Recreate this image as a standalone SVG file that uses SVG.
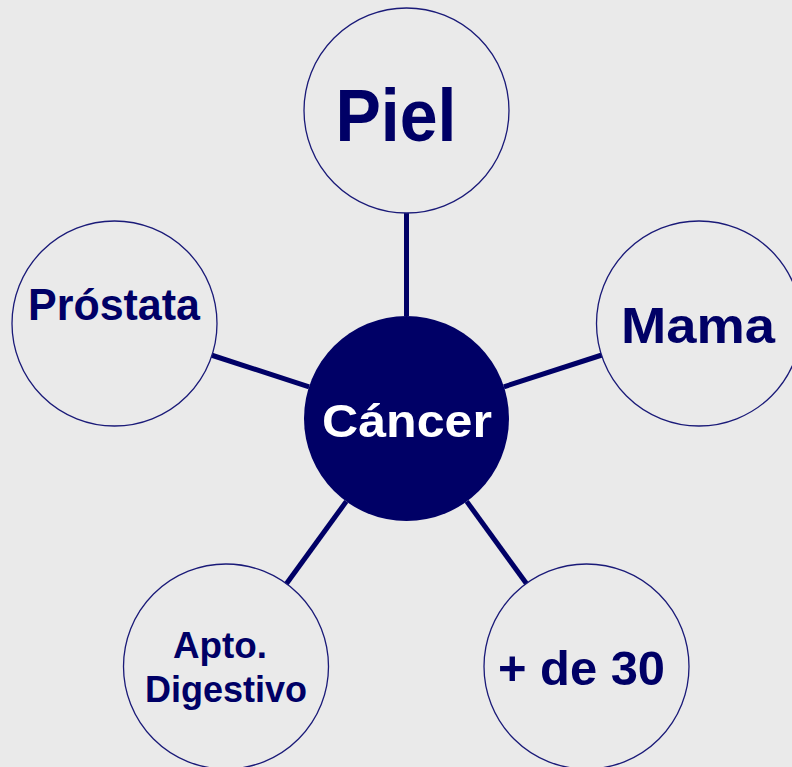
<svg xmlns="http://www.w3.org/2000/svg" width="792" height="767" viewBox="0 0 792 767">
<style>
.bg{fill:#eaeaea}
.leaf{fill:#eaeaea;stroke:#1a1a78;stroke-width:1.3}
.hub{fill:#000066}
.conn line{stroke:#000066;stroke-width:5;stroke-linecap:butt}
text{font-family:"Liberation Sans",Arial,sans-serif;font-weight:bold;fill:#000066;text-anchor:middle}
.white{fill:#ffffff}
</style>
<rect class="bg" x="0" y="0" width="792" height="767"/>
<g id="connectors" class="conn">
<line x1="406.5" y1="316" x2="406.5" y2="213"/>
<line x1="503.9" y1="386.8" x2="601.9" y2="355"/>
<line x1="466.7" y1="501.4" x2="527.3" y2="584.7"/>
<line x1="346.3" y1="501.4" x2="285.7" y2="584.7"/>
<line x1="309.1" y1="386.8" x2="211.1" y2="355"/>
</g>
<g id="piel">
<circle class="leaf" cx="406.5" cy="110.5" r="102.5"/>
<text x="396" y="141" font-size="75" textLength="121" lengthAdjust="spacingAndGlyphs">Piel</text>
</g>
<g id="mama">
<circle class="leaf" cx="699" cy="323.5" r="102.5"/>
<text x="698" y="343" font-size="50" textLength="154" lengthAdjust="spacingAndGlyphs">Mama</text>
</g>
<g id="de30">
<circle class="leaf" cx="586.5" cy="666.5" r="102.5"/>
<text x="581.5" y="685" font-size="48" textLength="167" lengthAdjust="spacingAndGlyphs">+ de 30</text>
</g>
<g id="apto">
<circle class="leaf" cx="226" cy="666.5" r="102.5"/>
<text x="220" y="658" font-size="36" textLength="94" lengthAdjust="spacingAndGlyphs">Apto.</text>
<text x="226" y="702" font-size="36" textLength="162" lengthAdjust="spacingAndGlyphs">Digestivo</text>
</g>
<g id="prostata">
<circle class="leaf" cx="114.5" cy="323.5" r="102.5"/>
<text x="114" y="320" font-size="44" textLength="172" lengthAdjust="spacingAndGlyphs">Próstata</text>
</g>
<g id="cancer">
<circle class="hub" cx="406.5" cy="418.5" r="102.5"/>
<text class="white" x="407" y="437" font-size="46" textLength="170" lengthAdjust="spacingAndGlyphs">Cáncer</text>
</g>
</svg>
